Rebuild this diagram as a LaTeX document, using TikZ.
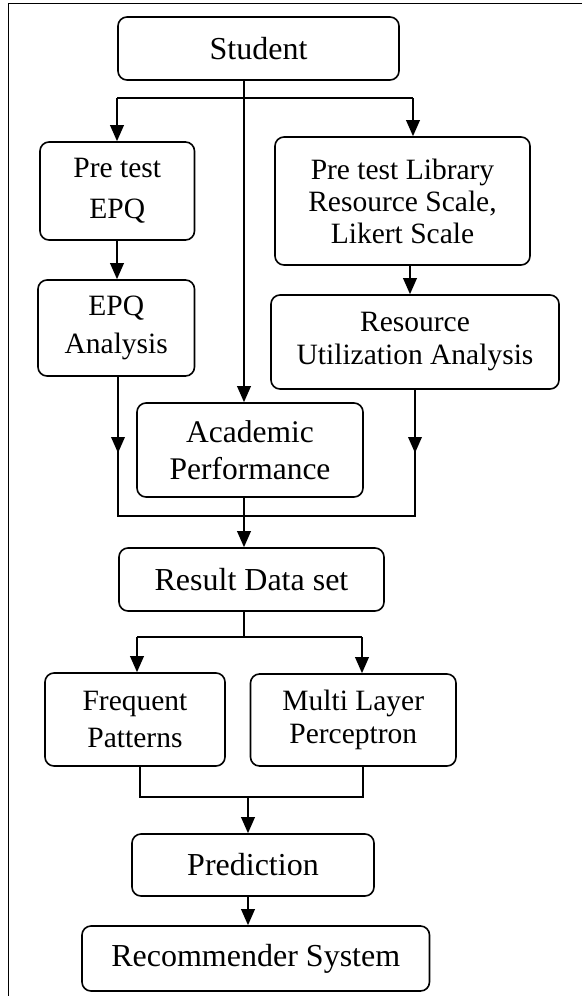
\documentclass[tikz,border=0pt]{standalone}
\usepackage{fontspec}
\setmainfont{Liberation Serif}
\usetikzlibrary{arrows.meta}

\begin{document}
\begin{tikzpicture}[x=1pt,y=-1pt,
  box/.style={draw, line width=1.6pt, rounded corners=9pt, inner sep=0pt, align=center},
  sz/.style n args={2}{minimum width=#1pt, minimum height=#2pt},
  big/.style={font=\fontsize{32}{38}\selectfont},
  txt/.style={font=\fontsize{29.5}{#1}\selectfont},
  conn/.style={line width=2pt},
  arr/.style={conn, -{Triangle[length=16pt,width=13.5pt]}},
]
\useasboundingbox (0,0) rectangle (582,996);

% page frame (top and left edges)
\draw[line width=1pt] (582,3) -- (8,3) -- (8,996);

% boxes
\node[box, big, sz={281}{63}] (st) at (258.5,48.5) {Student};
\node[box, txt=41, sz={154.5}{98}] (pe) at (117.25,191) {Pre test\\EPQ};
\node[box, txt=32, sz={255}{128}] (pl) at (402.5,201) {Pre test Library\\Resource Scale,\\Likert Scale};
\node[box, txt=38, sz={156.5}{96}] (ea) at (116.25,328) {EPQ\\Analysis};
\node[box, txt=33, sz={288}{94}] (ru) at (415,342) {Resource\\Utilization Analysis};
\node[box, font=\fontsize{31.5}{36.7}\selectfont, sz={226}{94}] (ap) at (250,450) {Academic\\Performance};
\node[box, big, sz={265}{63}] (rd) at (251.5,579.5) {Result Data set};
\node[box, txt=37, sz={180}{93}] (fp) at (135,719.5) {Frequent\\Patterns};
\node[box, txt=33.7, sz={205.5}{92}] (ml) at (353.25,720) {Multi Layer\\Perceptron};
\node[box, big, sz={242}{62}] (pr) at (253,865) {Prediction};
\node[box, big, sz={347.5}{65}] (rc) at (255.75,958.5) {Recommender System};

% routing points
\coordinate (tx) at (244,0);
\coordinate (b1) at (117,98);
\coordinate (b2) at (413,98);
\coordinate (b3) at (410,0);
\coordinate (m1) at (118,516);
\coordinate (m2) at (415,516);
\coordinate (h1) at (118,453);
\coordinate (h2) at (415,453);
\coordinate (s1) at (137,637);
\coordinate (s2) at (362,637);
\coordinate (j1) at (139.5,797);
\coordinate (j2) at (363,797);
\coordinate (jx) at (248,797);

% student fan-out
\draw[arr] (st.south -| tx) -- (ap.north -| tx);
\draw[conn] (b1) -- (b2);
\draw[arr] (b1) -- (pe.north -| b1);
\draw[arr] (b2) -- (pl.north -| b2);

% tests to analyses
\draw[arr] (pe.south -| b1) -- (ea.north -| b1);
\draw[arr] (pl.south -| b3) -- (ru.north -| b3);

% analyses merge
\draw[conn] (ea.south -| m1) -- (m1) -- (m2) -- (ru.south -| m2);
\draw[arr] (ea.south -| m1) -- (h1);
\draw[arr] (ru.south -| m2) -- (h2);
\draw[arr] (ap.south -| tx) -- (rd.north -| tx);

% result split
\draw[conn] (rd.south -| tx) -- (tx |- s1);
\draw[conn] (s1) -- (s2);
\draw[arr] (s1) -- (fp.north -| s1);
\draw[arr] (s2) -- (ml.north -| s2);

% join to prediction
\draw[conn] (fp.south -| j1) -- (j1) -- (j2) -- (ml.south -| j2);
\draw[arr] (jx) -- (pr.north -| jx);
\draw[arr] (pr.south -| jx) -- (rc.north -| jx);
\end{tikzpicture}
\end{document}
